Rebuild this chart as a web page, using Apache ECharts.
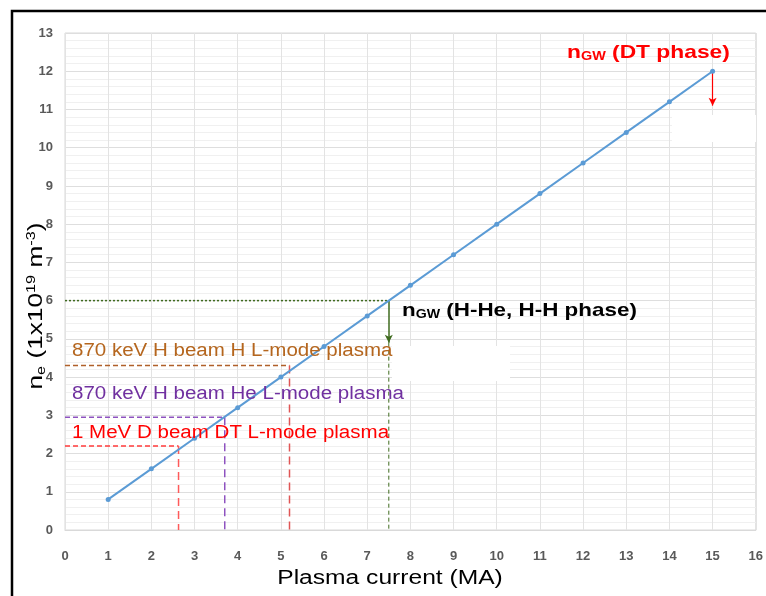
<!DOCTYPE html>
<html>
<head>
    <meta charset="UTF-8">
    <title>Greenwald density vs plasma current</title>
    <script src="https://cdn.jsdelivr.net/npm/echarts@6/dist/echarts.min.js"></script>
    <style>
        html, body { margin: 0; padding: 0; background: #fff; }
        #chart { width: 766px; height: 596px; }
    </style>
</head>
<body>
<div id="chart"></div>
<script>
    // plasma current (MA) and Greenwald density (1e19 m^-3)
    const current = [1, 2, 3, 4, 5, 6, 7, 8, 9, 10, 11, 12, 13, 14, 15];
    const density = [0.8, 1.6, 2.4, 3.2, 4.0, 4.8, 5.6, 6.4, 7.2, 8.0, 8.8, 9.6, 10.4, 11.2, 12.0];

    // beam cases: required density and the matching current
    const beamNames = ['870 keV H beam H L-mode plasma', '870 keV H beam He L-mode plasma', '1 MeV D beam DT L-mode plasma'];
    const beamDensity = [4.3, 2.95, 2.2];
    const beamCurrent = [5.2, 3.7, 2.63];

    // Greenwald limit for H-He / H-H phase, and arrow ends
    const hhCurrent = 7.5;
    const hhDensity = 6;
    const hhArrowEnd = 4.9;
    const dtCurrent = 15;
    const dtDensity = 12;
    const dtArrowEnd = 11.1;

    const beamLineColors = ['#b0602a', '#8e52c0', '#ff3b3b'];
    const beamDropColors = ['#e05555', '#8e52c0', '#ff5a5a'];
    const beamTextColors = ['#b5661e', '#7030a0', '#ff0000'];
    const beamTextY = [351, 394, 433];

    const chart = echarts.init(document.getElementById('chart'));

    const series = [{
        type: 'line',
        data: current.map((c, i) => [c, density[i]]),
        symbol: 'circle',
        symbolSize: 5,
        itemStyle: { color: '#5b9bd5' },
        lineStyle: { color: '#5b9bd5', width: 2 },
        z: 5
    }];

    beamDensity.forEach((d, i) => {
        series.push({
            type: 'line', symbol: 'none', silent: true, z: 4,
            data: [[0, d], [beamCurrent[i], d]],
            lineStyle: { color: beamLineColors[i], width: 1.5, type: [5, 3] }
        });
        series.push({
            type: 'line', symbol: 'none', silent: true, z: 4,
            data: [[beamCurrent[i], d], [beamCurrent[i], 0]],
            lineStyle: { color: beamDropColors[i], width: 1.5, type: [8, 5] }
        });
    });

    // green H-He/H-H marker
    series.push({
        type: 'line', symbol: 'none', silent: true, z: 4,
        data: [[0, hhDensity], [hhCurrent, hhDensity]],
        lineStyle: { color: '#3f6b1f', width: 1.5, type: [2, 2] }
    });
    series.push({
        type: 'line', symbol: 'none', silent: true, z: 4,
        data: [[hhCurrent, hhArrowEnd], [hhCurrent, 0]],
        lineStyle: { color: '#3f6b1f', width: 1, type: [4, 3] }
    });
    series.push({
        type: 'line', symbol: 'none', silent: true, z: 4, data: [],
        markLine: {
            silent: true,
            symbol: ['none', 'arrow'],
            symbolSize: [6, 8],
            label: { show: false },
            data: [
                [{ coord: [hhCurrent, hhDensity], lineStyle: { color: '#3f6b1f', width: 1.5, type: 'solid' } },
                 { coord: [hhCurrent, hhArrowEnd] }],
                [{ coord: [dtCurrent, dtDensity], lineStyle: { color: '#ff0000', width: 1.2, type: 'solid' } },
                 { coord: [dtCurrent, dtArrowEnd] }]
            ]
        }
    });

    const tickFont = {
        color: '#595959',
        fontFamily: 'Liberation Sans Narrow, Liberation Sans, sans-serif',
        fontWeight: 'bold',
        fontSize: 13
    };

    const graphic = [
        // outer frame (left and top edges)
        { type: 'polyline', shape: { points: [[12, 596], [12, 11], [766, 11]] },
          style: { stroke: '#000', lineWidth: 2.5, fill: null }, z: 100 },
        // white patches over the grid
        { type: 'rect', shape: { x: 392, y: 346, width: 118, height: 35 }, style: { fill: '#fff' }, z: 50 },
        { type: 'rect', shape: { x: 672, y: 115, width: 84, height: 27 }, style: { fill: '#fff' }, z: 50 },
        // axis names
        { type: 'text', x: 390, y: 578, scaleX: 1.23, z: 100,
          style: { text: 'Plasma current (MA)', fill: '#000', font: '20px Liberation Sans, Arial, sans-serif',
                   align: 'center', verticalAlign: 'middle' } },
        { type: 'text', x: 36, y: 306, rotation: Math.PI / 2, scaleX: 1.25, z: 100,
          style: {
              text: '{m|n}{s|e}{m| (1x10}{p|19}{m| m}{p|-3}{m|)}',
              align: 'center', verticalAlign: 'middle',
              rich: {
                  m: { fontSize: 21, fontFamily: 'Liberation Sans, Arial', fill: '#000' },
                  s: { fontSize: 13, fontFamily: 'Liberation Sans, Arial', fill: '#000', padding: [10, 0, 0, 0] },
                  p: { fontSize: 13, fontFamily: 'Liberation Sans, Arial', fill: '#000', padding: [0, 0, 10, 0] }
              }
          } },
        // Greenwald labels
        { type: 'text', x: 402, y: 311, scaleX: 1.18, z: 100,
          style: {
              text: '{b|n}{bs|GW}{b| (H-He, H-H phase)}', verticalAlign: 'middle',
              rich: {
                  b: { fontSize: 19, fontWeight: 'bold', fontFamily: 'Liberation Sans, Arial', fill: '#000' },
                  bs: { fontSize: 12, fontWeight: 'bold', fontFamily: 'Liberation Sans, Arial', fill: '#000', padding: [8, 0, 0, 0] }
              }
          } },
        { type: 'text', x: 567, y: 53, scaleX: 1.2, z: 100,
          style: {
              text: '{b|n}{bs|GW}{b| (DT phase)}', verticalAlign: 'middle',
              rich: {
                  b: { fontSize: 19, fontWeight: 'bold', fontFamily: 'Liberation Sans, Arial', fill: '#ff0000' },
                  bs: { fontSize: 12, fontWeight: 'bold', fontFamily: 'Liberation Sans, Arial', fill: '#ff0000', padding: [8, 0, 0, 0] }
              }
          } }
    ];

    beamNames.forEach((name, i) => {
        graphic.push({
            type: 'text', x: 72, y: beamTextY[i], scaleX: 1.14, z: 100,
            style: { text: name, fill: beamTextColors[i], font: '18px Liberation Sans, Arial, sans-serif',
                     verticalAlign: 'middle' }
        });
    });

    chart.setOption({
        animation: false,
        backgroundColor: '#fff',
        grid: {
            left: 65, right: 7, top: 33, bottom: 66,
            show: true, borderColor: '#d9d9d9', borderWidth: 1
        },
        xAxis: {
            type: 'value', min: 0, max: 16, interval: 1,
            axisLine: { show: true, lineStyle: { color: '#d9d9d9' } },
            axisTick: { show: false },
            axisLabel: Object.assign({ margin: 20 }, tickFont),
            splitLine: { show: true, lineStyle: { color: '#e3e3e3' } }
        },
        yAxis: {
            type: 'value', min: 0, max: 13, interval: 1,
            axisLine: { show: false },
            axisTick: { show: false },
            axisLabel: Object.assign({ margin: 12 }, tickFont),
            splitLine: { show: true, lineStyle: { color: '#dedede' } },
            minorTick: { show: false, splitNumber: 5 },
            minorSplitLine: { show: true, lineStyle: { color: '#f0f0f0' } }
        },
        series: series,
        graphic: graphic
    });
</script>
</body>
</html>
